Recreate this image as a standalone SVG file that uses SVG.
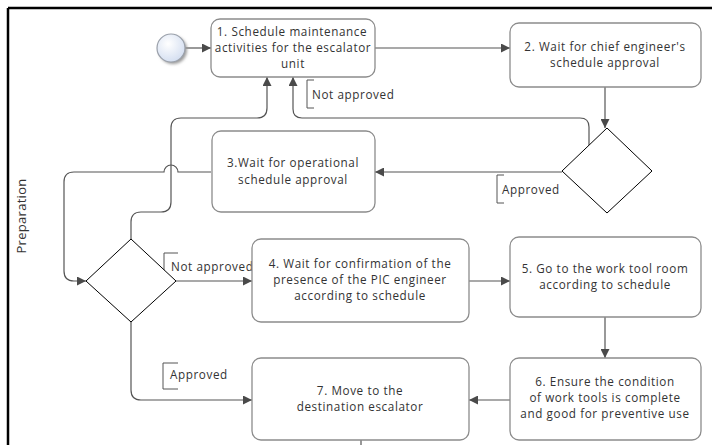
<svg xmlns="http://www.w3.org/2000/svg" width="712" height="445" viewBox="0 0 712 445">
  <defs>
    <marker id="arrow" viewBox="0 0 10 10" refX="10" refY="5" markerWidth="9" markerHeight="9" markerUnits="userSpaceOnUse" orient="auto">
      <path d="M0,0 L10,5 L0,10 Z" fill="#4a4a4a"/>
    </marker>
    <radialGradient id="startFill" cx="40%" cy="35%" r="70%">
      <stop offset="0" stop-color="#ffffff"/>
      <stop offset="1" stop-color="#d2ddf0"/>
    </radialGradient>
    <filter id="soft" x="-50%" y="-50%" width="200%" height="200%">
      <feGaussianBlur stdDeviation="1.5"/>
    </filter>
  </defs>
  <style>
    .task { fill: #ffffff; stroke: #8c8c8c; stroke-width: 1.3; }
    .gate { fill: #ffffff; stroke: #000000; stroke-width: 1; }
    .flow { fill: none; stroke: #555555; stroke-width: 1.2; }
    .arrowed { marker-end: url(#arrow); }
    .bracket { fill: none; stroke: #555555; stroke-width: 1; }
    text { font-family: "Open Sans", "Noto Sans", sans-serif; font-size: 11.7px; letter-spacing: 0.6px; fill: #333333; }
    .c { text-anchor: middle; }
  </style>

  <rect width="712" height="445" fill="#ffffff"/>

  <!-- pool frame -->
  <g id="pool">
    <path d="M8,8 H712 M8,8 V445" fill="none" stroke="#000000" stroke-width="2.5"/>
    <text transform="translate(26,216) rotate(-90)" class="c" style="font-size:13px;letter-spacing:0.3px">Preparation</text>
  </g>

  <!-- connectors -->
  <g id="connectors">
    <path class="flow arrowed" d="M185,48 H211"/>
    <path class="flow arrowed" d="M375,48 H510"/>
    <path class="flow arrowed" d="M605,87 V128"/>
    <path class="flow arrowed" d="M562,172 H375"/>
    <path class="flow arrowed" d="M589,146 V127 Q589,118 580,118 H302 Q293,118 293,109 V77"/>
    <path class="flow arrowed" d="M211,172 H178 A7,7 0 0 0 164,172 H74 Q64,172 64,182 V271 Q64,281 74,281 H86"/>
    <path class="flow arrowed" d="M131,239 V222 Q131,212 141,212 H161 Q171,212 171,202 V128 Q171,118 181,118 H257 Q267,118 267,108 V77"/>
    <path class="flow arrowed" d="M176,281 H252"/>
    <path class="flow arrowed" d="M469,281 H510"/>
    <path class="flow arrowed" d="M605,317 V358"/>
    <path class="flow arrowed" d="M510,400 H469"/>
    <path class="flow arrowed" d="M131,322 V390 Q131,400 141,400 H252"/>
    <path class="flow" d="M361,440 V445"/>

    <!-- flow labels -->
    <path class="bracket" d="M314,80 H307 V108 H314"/>
    <text x="312" y="99">Not approved</text>
    <path class="bracket" d="M504,175 H497 V203 H504"/>
    <text x="502" y="194">Approved</text>
    <path class="bracket" d="M178,253 H164 V272"/>
    <text x="171" y="271">Not approved</text>
    <path class="bracket" d="M178,363 H163 V389 H178"/>
    <text x="170" y="379">Approved</text>
  </g>

  <!-- start event -->
  <g id="start">
    <circle cx="173" cy="50" r="14" fill="#9a9a9a" filter="url(#soft)"/>
    <circle cx="171" cy="48" r="14" fill="url(#startFill)" stroke="#9aa0aa" stroke-width="1.2"/>
  </g>

  <g id="task1">
    <rect class="task" x="211" y="19" width="164" height="58" rx="9"/>
    <text class="c" x="292" y="36">1. Schedule maintenance</text>
    <text class="c" x="293" y="52">activities for the escalator</text>
    <text class="c" x="293" y="68">unit</text>
  </g>

  <g id="task2">
    <rect class="task" x="510" y="23" width="191" height="64" rx="9"/>
    <text class="c" x="605" y="51">2. Wait for chief engineer's</text>
    <text class="c" x="605" y="67">schedule approval</text>
  </g>

  <g id="gateway1">
    <polygon class="gate" points="607,128 652,171 607,213 562,171"/>
  </g>

  <g id="task3">
    <rect class="task" x="212" y="131" width="163" height="81" rx="9"/>
    <text class="c" x="293" y="167">3.Wait for operational</text>
    <text class="c" x="293" y="184">schedule approval</text>
  </g>

  <g id="gateway2">
    <polygon class="gate" points="131,239 176,281 131,322 86,281"/>
  </g>

  <g id="task4">
    <rect class="task" x="252" y="239" width="217" height="83" rx="9"/>
    <text class="c" x="360" y="268">4. Wait for confirmation of the</text>
    <text class="c" x="360" y="284">presence of the PIC engineer</text>
    <text class="c" x="360" y="300">according to schedule</text>
  </g>

  <g id="task5">
    <rect class="task" x="510" y="237" width="191" height="80" rx="9"/>
    <text class="c" x="605" y="273">5. Go to the work tool room</text>
    <text class="c" x="605" y="289">according to schedule</text>
  </g>

  <g id="task6">
    <rect class="task" x="510" y="358" width="191" height="82" rx="9"/>
    <text class="c" x="605" y="386">6. Ensure the condition</text>
    <text class="c" x="605" y="402">of work tools is complete</text>
    <text class="c" x="605" y="418">and good for preventive use</text>
  </g>

  <g id="task7">
    <rect class="task" x="252" y="358" width="217" height="82" rx="9"/>
    <text class="c" x="360" y="395">7. Move to the</text>
    <text class="c" x="360" y="411">destination escalator</text>
  </g>
</svg>
